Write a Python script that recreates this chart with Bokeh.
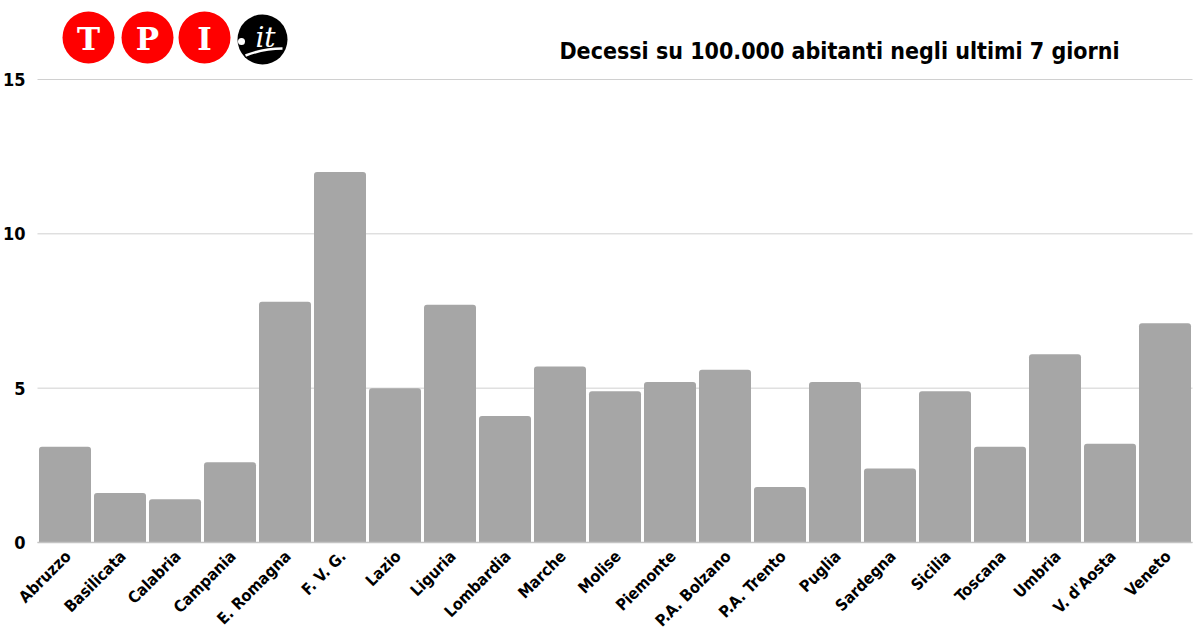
import math
from bokeh.plotting import figure
from bokeh.models import Range1d
from bokeh.core.properties import value
from bokeh.embed import file_html
from bokeh.resources import INLINE

regions = ["Abruzzo", "Basilicata", "Calabria", "Campania", "E. Romagna", "F. V. G.",
           "Lazio", "Liguria", "Lombardia", "Marche", "Molise", "Piemonte",
           "P.A. Bolzano", "P.A. Trento", "Puglia", "Sardegna", "Sicilia",
           "Toscana", "Umbria", "V. d'Aosta", "Veneto"]
deaths = [3.1, 1.6, 1.4, 2.6, 7.8, 12.0, 5.0, 7.7, 4.1, 5.7, 4.9, 5.2,
          5.6, 1.8, 5.2, 2.4, 4.9, 3.1, 6.1, 3.2, 7.1]
y_ticks = [0, 5, 10, 15]
y_tick_labels = ["0", "5", "10", "15"]
title_text = "Decessi su 100.000 abitanti negli ultimi 7 giorni"
logo_letters = ["T", "P", "I"]

FONT = "DejaVu Sans Condensed, Roboto"
W, H = 1200, 630
OX, OY = 0, 0                # canvas position on the page

# page-pixel geometry of the plotting area
FX0, FX1 = 37, 1192          # bar area left/right (page px)
FY0, FY15 = 542, 79          # y=0 and y=15 (page px)
n = len(regions)
ppx = (FX1 - FX0) / n        # px per category
ppy = (FY0 - FY15) / 15.0    # px per unit


def dx(xp):  # page x -> data x
    return (xp - FX0) / ppx - 0.5


def dy(yp):  # page y -> data y
    return (FY0 - yp) / ppy


p = figure(width=W, height=H,
           x_range=Range1d(dx(OX), dx(OX + W)), y_range=Range1d(dy(OY + H), dy(OY)),
           output_backend="svg", toolbar_location=None, min_border=0)
p.axis.visible = False
p.grid.visible = False
p.outline_line_color = None

xs = list(range(n))
x_lo, x_hi = -0.5, n - 0.5

# gridlines
p.segment(x0=[x_lo] * len(y_ticks), x1=[x_hi] * len(y_ticks), y0=y_ticks, y1=y_ticks,
          line_color="#d0d0d0", line_width=1)

# bars
p.vbar(x=xs, top=deaths, width=52 / 55, fill_color="#a6a6a6", line_color=None,
       border_radius=(3, 3, 0, 0))

# baseline
p.segment(x0=[x_lo], x1=[x_hi], y0=[0], y1=[0], line_color="#c4c4c4", line_width=1.5)

# y tick labels
p.text(x=[dx(25)] * len(y_ticks), y=y_ticks, text=y_tick_labels, text_color="black",
       text_font=value(FONT), text_font_style="bold", text_font_size="18px",
       text_align="right", text_baseline="middle")

# x tick labels (rotated)
p.text(x=[x + 3 / ppx for x in xs], y=[dy(553)] * n, text=regions, text_color="black",
       text_font=value(FONT), text_font_style="bold", text_font_size="16px",
       text_align="right", text_baseline="middle", angle=math.pi / 4)

# ---- header: logo ----
cy = 37
cxs = [88, 147, 204]
p.circle(x=[dx(c) for c in cxs], y=[dy(cy)] * 3, radius=26, radius_units="screen",
         fill_color="#ff0000", line_color=None)
p.text(x=[dx(c) for c in cxs], y=[dy(cy + 1)] * 3, text=logo_letters, text_color="white",
       text_font=value("DejaVu Serif"), text_font_style="bold",
       text_font_size="31px", text_align="center", text_baseline="middle")
p.circle(x=[dx(262)], y=[dy(39)], radius=25, radius_units="screen",
         fill_color="black", line_color=None)
p.circle(x=[dx(241)], y=[dy(41)], radius=3.5, radius_units="screen",
         fill_color="white", line_color=None)
p.text(x=[dx(265)], y=[dy(37)], text=["it"], text_color="white",
       text_font=value("DejaVu Serif"), text_font_style="italic",
       text_font_size="28px", text_align="center", text_baseline="middle")
p.bezier(x0=[dx(245)], y0=[dy(55)], x1=[dx(282)], y1=[dy(48)],
         cx0=[dx(258)], cy0=[dy(50)], cx1=[dx(270)], cy1=[dy(48)],
         line_color="white", line_width=2.5)

# ---- header: title ----
p.text(x=[dx(839)], y=[dy(50)], text=[title_text], text_color="black",
       text_font=value(FONT), text_font_style="bold", text_font_size="23px",
       text_align="center", text_baseline="middle")

open("out.html", "w").write(file_html(p, INLINE))
